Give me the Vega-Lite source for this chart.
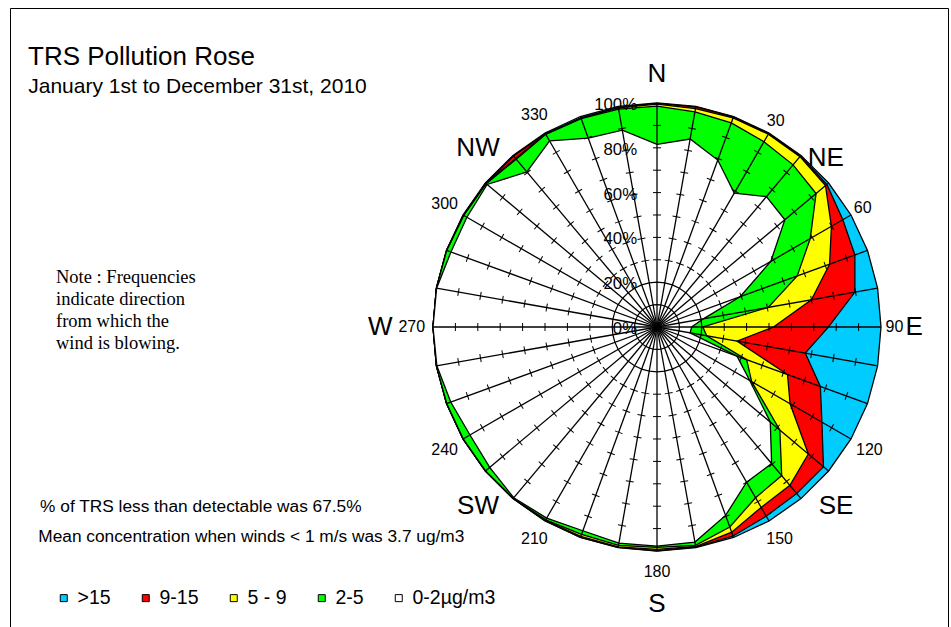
{
 "$schema": "https://vega.github.io/schema/vega-lite/v6.json",
 "width": 938, "height": 619,
 "padding": {"left": 10, "top": 8, "right": 3, "bottom": 0},
 "autosize": {"type": "none"},
 "background": "white",
 "config": {"view": {"stroke": "black", "strokeWidth": 1}, "text": {"font": "Liberation Sans", "color": "black"}},
 "datasets": {
  "rose": [
   {"dir":0,"0-2µg/m3":81.5,"2-5":17.1,"5 - 9":0.9,"9-15":0.3,">15":0.2},
   {"dir":10,"0-2µg/m3":85.2,"2-5":12.3,"5 - 9":1.5,"9-15":0.8,">15":0.2},
   {"dir":20,"0-2µg/m3":79.3,"2-5":17.7,"5 - 9":2.3,"9-15":0.5,">15":0.2},
   {"dir":30,"0-2µg/m3":69.0,"2-5":26.5,"5 - 9":3.9,"9-15":0.4,">15":0.2},
   {"dir":40,"0-2µg/m3":76.0,"2-5":18.5,"5 - 9":4.8,"9-15":0.4,">15":0.3},
   {"dir":50,"0-2µg/m3":74.5,"2-5":18.2,"5 - 9":5.5,"9-15":0.8,">15":1.0},
   {"dir":60,"0-2µg/m3":58.7,"2-5":20.3,"5 - 9":10.9,"9-15":5.9,">15":4.2},
   {"dir":70,"0-2µg/m3":39.5,"2-5":27.1,"5 - 9":15.4,"9-15":12.0,">15":6.0},
   {"dir":80,"0-2µg/m3":21.0,"2-5":29.4,"5 - 9":19.6,"9-15":19.7,">15":10.3},
   {"dir":90,"0-2µg/m3":15.5,"2-5":5.0,"5 - 9":31.5,"9-15":24.5,">15":23.5},
   {"dir":100,"0-2µg/m3":15.0,"2-5":7.5,"5 - 9":13.8,"9-15":30.9,">15":32.8},
   {"dir":110,"0-2µg/m3":38.0,"2-5":4.6,"5 - 9":19.4,"9-15":15.6,">15":22.4},
   {"dir":120,"0-2µg/m3":47.8,"2-5":1.0,"5 - 9":19.8,"9-15":16.4,">15":15.0},
   {"dir":130,"0-2µg/m3":66.0,"2-5":5.6,"5 - 9":16.6,"9-15":8.8,">15":3.0},
   {"dir":140,"0-2µg/m3":79.6,"2-5":7.0,"5 - 9":5.7,"9-15":4.7,">15":3.0},
   {"dir":150,"0-2µg/m3":80.0,"2-5":8.0,"5 - 9":5.0,"9-15":4.5,">15":2.5},
   {"dir":160,"0-2µg/m3":89.5,"2-5":5.5,"5 - 9":2.5,"9-15":1.8,">15":0.7},
   {"dir":170,"0-2µg/m3":97.5,"2-5":1.5,"5 - 9":0.5,"9-15":0.3,">15":0.2},
   {"dir":180,"0-2µg/m3":97.8,"2-5":0.6,"5 - 9":0.9,"9-15":0.6,">15":0.1},
   {"dir":190,"0-2µg/m3":98.0,"2-5":1.0,"5 - 9":0.7,"9-15":0.2,">15":0.1},
   {"dir":200,"0-2µg/m3":96.8,"2-5":1.7,"5 - 9":1.0,"9-15":0.4,">15":0.1},
   {"dir":210,"0-2µg/m3":98.5,"2-5":0.9,"5 - 9":0.3,"9-15":0.2,">15":0.1},
   {"dir":220,"0-2µg/m3":99.5,"2-5":0.3,"5 - 9":0.1,"9-15":0.1,">15":0.0},
   {"dir":230,"0-2µg/m3":97.5,"2-5":2.4,"5 - 9":0.1,"9-15":0.0,">15":0.0},
   {"dir":240,"0-2µg/m3":96.4,"2-5":3.5,"5 - 9":0.1,"9-15":0.0,">15":0.0},
   {"dir":250,"0-2µg/m3":98.0,"2-5":1.9,"5 - 9":0.1,"9-15":0.0,">15":0.0},
   {"dir":260,"0-2µg/m3":99.8,"2-5":0.2,"5 - 9":0.0,"9-15":0.0,">15":0.0},
   {"dir":270,"0-2µg/m3":100.0,"2-5":0.0,"5 - 9":0.0,"9-15":0.0,">15":0.0},
   {"dir":280,"0-2µg/m3":99.9,"2-5":0.1,"5 - 9":0.0,"9-15":0.0,">15":0.0},
   {"dir":290,"0-2µg/m3":97.9,"2-5":2.0,"5 - 9":0.1,"9-15":0.0,">15":0.0},
   {"dir":300,"0-2µg/m3":98.0,"2-5":1.6,"5 - 9":0.2,"9-15":0.1,">15":0.1},
   {"dir":310,"0-2µg/m3":99.0,"2-5":0.5,"5 - 9":0.3,"9-15":0.1,">15":0.1},
   {"dir":320,"0-2µg/m3":90.4,"2-5":7.4,"5 - 9":0.4,"9-15":1.4,">15":0.4},
   {"dir":330,"0-2µg/m3":95.9,"2-5":3.4,"5 - 9":0.2,"9-15":0.1,">15":0.4},
   {"dir":340,"0-2µg/m3":89.7,"2-5":9.3,"5 - 9":0.2,"9-15":0.1,">15":0.7},
   {"dir":350,"0-2µg/m3":89.2,"2-5":9.6,"5 - 9":0.5,"9-15":0.3,">15":0.4}
  ],
  "pctlab": [{"lab":"100%","lv":100},{"lab":"80%","lv":80},{"lab":"60%","lv":60},{"lab":"40%","lv":40},{"lab":"20%","lv":20},{"lab":"0%","lv":0}],
  "deglab": [{"deg":30},{"deg":60},{"deg":90},{"deg":120},{"deg":150},{"deg":180},{"deg":210},{"deg":240},{"deg":270},{"deg":300},{"deg":330}],
  "compass": [{"lab":"N","dir":0},{"lab":"NE","dir":45},{"lab":"E","dir":90},{"lab":"SE","dir":135},{"lab":"S","dir":180},{"lab":"SW","dir":225},{"lab":"W","dir":270},{"lab":"NW","dir":315}],
  "one": [{}]
 },
 "layer": [
  {
   "data": {"name": "rose"},
   "transform": [
    {"fold": ["0-2µg/m3", "2-5", "5 - 9", "9-15", ">15"], "as": ["band", "pct"]},
    {"stack": "pct", "groupby": ["dir"], "sort": [{"field": "band", "order": "ascending"}], "as": ["r0", "r1"]},
    {"calculate": "datum.r1*sin(datum.dir*PI/180)", "as": "x"},
    {"calculate": "datum.r1*cos(datum.dir*PI/180)", "as": "y"},
    {"filter": "datum.band == '>15'"}
   ],
   "mark": {"type": "line", "interpolate": "linear-closed", "stroke": "black", "strokeWidth": 1.3},
   "encoding": {
    "x": {"field": "x", "type": "quantitative", "scale": {"domain": [-288.84, 129.91], "nice": false, "zero": false}, "axis": null},
    "y": {"field": "y", "type": "quantitative", "scale": {"domain": [-133.93, 142.41], "nice": false, "zero": false}, "axis": null},
    "order": {"field": "dir", "type": "quantitative"},
    "fill": {"field": "band", "type": "nominal",
      "scale": {"domain": [">15", "9-15", "5 - 9", "2-5", "0-2µg/m3"], "range": ["#00CCFF", "#FF0000", "#FFFF00", "#00FF00", "#FFFFFF"]},
      "legend": {"orient": "none", "legendX": 44, "legendY": 580, "direction": "horizontal", "title": null, "symbolType": "square", "symbolSize": 49, "symbolStrokeColor": "black", "symbolStrokeWidth": 1, "labelFont": "Liberation Sans", "labelFontSize": 19.5, "labelColor": "black", "columnPadding": 25, "labelOffset": 4, "padding": 0}}
   }
  },
  {
   "data": {"name": "rose"},
   "transform": [
    {"fold": ["0-2µg/m3", "2-5", "5 - 9", "9-15", ">15"], "as": ["band", "pct"]},
    {"stack": "pct", "groupby": ["dir"], "sort": [{"field": "band", "order": "ascending"}], "as": ["r0", "r1"]},
    {"calculate": "datum.r1*sin(datum.dir*PI/180)", "as": "x"},
    {"calculate": "datum.r1*cos(datum.dir*PI/180)", "as": "y"},
    {"filter": "datum.band == '9-15'"}
   ],
   "mark": {"type": "line", "interpolate": "linear-closed", "stroke": "black", "strokeWidth": 1.3},
   "encoding": {
    "x": {"field": "x", "type": "quantitative"},
    "y": {"field": "y", "type": "quantitative"},
    "order": {"field": "dir", "type": "quantitative"}, "fill": {"field": "band", "type": "nominal"}}
  },
  {
   "data": {"name": "rose"},
   "transform": [
    {"fold": ["0-2µg/m3", "2-5", "5 - 9", "9-15", ">15"], "as": ["band", "pct"]},
    {"stack": "pct", "groupby": ["dir"], "sort": [{"field": "band", "order": "ascending"}], "as": ["r0", "r1"]},
    {"calculate": "datum.r1*sin(datum.dir*PI/180)", "as": "x"},
    {"calculate": "datum.r1*cos(datum.dir*PI/180)", "as": "y"},
    {"filter": "datum.band == '5 - 9'"}
   ],
   "mark": {"type": "line", "interpolate": "linear-closed", "stroke": "black", "strokeWidth": 1.3},
   "encoding": {
    "x": {"field": "x", "type": "quantitative"},
    "y": {"field": "y", "type": "quantitative"},
    "order": {"field": "dir", "type": "quantitative"}, "fill": {"field": "band", "type": "nominal"}}
  },
  {
   "data": {"name": "rose"},
   "transform": [
    {"fold": ["0-2µg/m3", "2-5", "5 - 9", "9-15", ">15"], "as": ["band", "pct"]},
    {"stack": "pct", "groupby": ["dir"], "sort": [{"field": "band", "order": "ascending"}], "as": ["r0", "r1"]},
    {"calculate": "datum.r1*sin(datum.dir*PI/180)", "as": "x"},
    {"calculate": "datum.r1*cos(datum.dir*PI/180)", "as": "y"},
    {"filter": "datum.band == '2-5'"}
   ],
   "mark": {"type": "line", "interpolate": "linear-closed", "stroke": "black", "strokeWidth": 1.3},
   "encoding": {
    "x": {"field": "x", "type": "quantitative"},
    "y": {"field": "y", "type": "quantitative"},
    "order": {"field": "dir", "type": "quantitative"}, "fill": {"field": "band", "type": "nominal"}}
  },
  {
   "data": {"name": "rose"},
   "transform": [
    {"fold": ["0-2µg/m3", "2-5", "5 - 9", "9-15", ">15"], "as": ["band", "pct"]},
    {"stack": "pct", "groupby": ["dir"], "sort": [{"field": "band", "order": "ascending"}], "as": ["r0", "r1"]},
    {"calculate": "datum.r1*sin(datum.dir*PI/180)", "as": "x"},
    {"calculate": "datum.r1*cos(datum.dir*PI/180)", "as": "y"},
    {"filter": "datum.band == '0-2µg/m3'"}
   ],
   "mark": {"type": "line", "interpolate": "linear-closed", "stroke": "black", "strokeWidth": 1.3},
   "encoding": {
    "x": {"field": "x", "type": "quantitative"},
    "y": {"field": "y", "type": "quantitative"},
    "order": {"field": "dir", "type": "quantitative"}, "fill": {"field": "band", "type": "nominal"}}
  },
  {
   "data": {"name": "rose"},
   "transform": [
    {"calculate": "10*sin(datum.dir*PI/180)", "as": "x"},
    {"calculate": "10*cos(datum.dir*PI/180)", "as": "y"}
   ],
   "mark": {"type": "line", "interpolate": "linear-closed", "stroke": "black", "strokeWidth": 1.2},
   "encoding": {
    "x": {"field": "x", "type": "quantitative"},
    "y": {"field": "y", "type": "quantitative"},
    "order": {"field": "dir", "type": "quantitative"}}
  },
  {
   "data": {"name": "rose"},
   "transform": [
    {"calculate": "20*sin(datum.dir*PI/180)", "as": "x"},
    {"calculate": "20*cos(datum.dir*PI/180)", "as": "y"}
   ],
   "mark": {"type": "line", "interpolate": "linear-closed", "stroke": "black", "strokeWidth": 1.2},
   "encoding": {
    "x": {"field": "x", "type": "quantitative"},
    "y": {"field": "y", "type": "quantitative"},
    "order": {"field": "dir", "type": "quantitative"}}
  },
  {
   "data": {"name": "rose"},
   "transform": [
    {"calculate": "100*sin(datum.dir*PI/180)", "as": "x"},
    {"calculate": "100*cos(datum.dir*PI/180)", "as": "y"}
   ],
   "mark": {"type": "rule", "stroke": "black", "strokeWidth": 1.3},
   "encoding": {
    "x": {"field": "x", "type": "quantitative"},
    "y": {"field": "y", "type": "quantitative"},
    "x2": {"datum": 0}, "y2": {"datum": 0}}
  },
  {
   "data": {"name": "rose"},
   "transform": [
    {"calculate": "[30,40,50,60,70,80,90]", "as": "lvs"},
    {"flatten": ["lvs"], "as": ["lv"]},
    {"calculate": "datum.lv*sin(datum.dir*PI/180)", "as": "x"},
    {"calculate": "datum.lv*cos(datum.dir*PI/180)", "as": "y"}
   ],
   "mark": {"type": "point", "shape": "M-1,0L1,0", "size": 64, "filled": false, "stroke": "black", "strokeWidth": 1, "opacity": 1},
   "encoding": {
    "x": {"field": "x", "type": "quantitative"},
    "y": {"field": "y", "type": "quantitative"},
    "angle": {"field": "dir", "type": "quantitative", "scale": null}}
  },
  {
   "data": {"name": "pctlab"},
   "transform": [{"calculate": "-8.9", "as": "x"}],
   "mark": {"type": "text", "align": "right", "baseline": "middle", "dy": 2, "fontSize": 16.8},
   "encoding": {
    "x": {"field": "x", "type": "quantitative"},
    "y": {"field": "lv", "type": "quantitative"},
    "text": {"field": "lab"}}
  },
  {
   "data": {"name": "deglab"},
   "transform": [
    {"calculate": "datum.deg <= 90 ? 106 : 109.5", "as": "r"},
    {"calculate": "datum.r*sin(datum.deg*PI/180)", "as": "x"},
    {"calculate": "datum.r*cos(datum.deg*PI/180)", "as": "y"}
   ],
   "mark": {"type": "text", "align": "center", "baseline": "middle", "fontSize": 16},
   "encoding": {
    "x": {"field": "x", "type": "quantitative"},
    "y": {"field": "y", "type": "quantitative"},
    "text": {"field": "deg"}}
  },
  {
   "data": {"name": "compass"},
   "transform": [
    {"calculate": "(datum.lab == 'S' || datum.lab == 'W') ? 123.5 : (datum.lab == 'NE' ? 106.5 : (datum.lab == 'E' ? 114.8 : 113))", "as": "r"},
    {"calculate": "datum.r*sin(datum.dir*PI/180)", "as": "x"},
    {"calculate": "datum.r*cos(datum.dir*PI/180)", "as": "y"}
   ],
   "mark": {"type": "text", "align": "center", "baseline": "middle", "fontSize": 26},
   "encoding": {
    "x": {"field": "x", "type": "quantitative"},
    "y": {"field": "y", "type": "quantitative"},
    "text": {"field": "lab"}}
  },
  {
   "data": {"name": "one"},
   "mark": {"type": "text", "text": "TRS Pollution Rose", "align": "left", "baseline": "alphabetic", "fontSize": 26},
   "encoding": {"x": {"datum": -280.8, "type": "quantitative"}, "y": {"datum": 116.96, "type": "quantitative"}}
  },
  {
   "data": {"name": "one"},
   "mark": {"type": "text", "text": "January 1st to December 31st, 2010", "align": "left", "baseline": "alphabetic", "fontSize": 21},
   "encoding": {"x": {"datum": -280.7, "type": "quantitative"}, "y": {"datum": 104.3, "type": "quantitative"}}
  },
  {
   "data": {"name": "one"},
   "mark": {"type": "text", "text": ["Note : Frequencies", "indicate direction", "from which the", "wind is blowing."], "font": "Liberation Serif", "lineHeight": 22, "align": "left", "baseline": "alphabetic", "fontSize": 18.5},
   "encoding": {"x": {"datum": -268.3, "type": "quantitative"}, "y": {"datum": 19.5, "type": "quantitative"}}
  },
  {
   "data": {"name": "one"},
   "mark": {"type": "text", "text": "% of TRS less than detectable was 67.5%", "align": "left", "baseline": "alphabetic", "fontSize": 17.3},
   "encoding": {"x": {"datum": -275.4, "type": "quantitative"}, "y": {"datum": -82.7, "type": "quantitative"}}
  },
  {
   "data": {"name": "one"},
   "mark": {"type": "text", "text": "Mean concentration when winds < 1 m/s was 3.7 ug/m3", "align": "left", "baseline": "alphabetic", "fontSize": 17.3},
   "encoding": {"x": {"datum": -276.2, "type": "quantitative"}, "y": {"datum": -95.8, "type": "quantitative"}}
  }
 ]
}
